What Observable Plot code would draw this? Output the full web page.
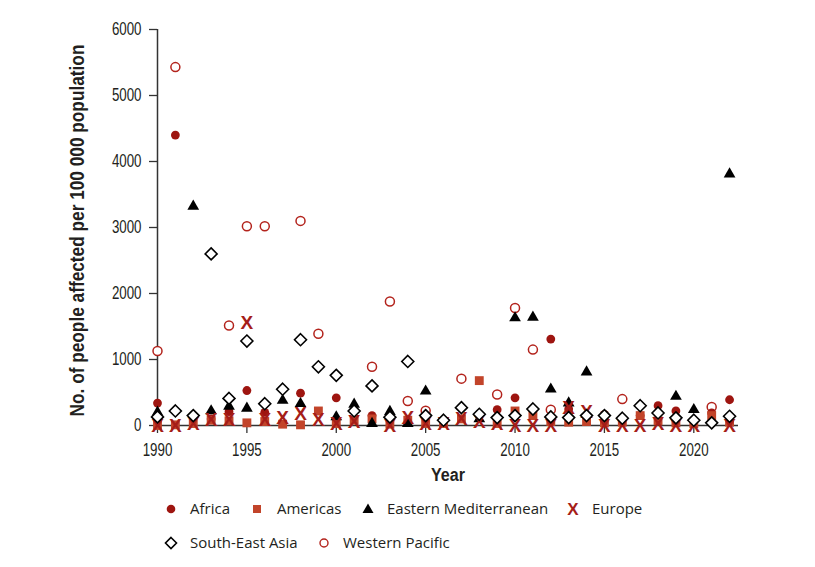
<!DOCTYPE html>
<html>
<head>
<meta charset="utf-8">
<script src="https://cdn.jsdelivr.net/npm/d3@7"></script>
<script src="https://cdn.jsdelivr.net/npm/@observablehq/plot@0.6"></script>
<style>
  html, body { margin: 0; padding: 0; background: #fff; }
  #wrap { position: relative; width: 815px; height: 567px; overflow: hidden; }
  .leg { position: absolute; font-family: "Open Sans", sans-serif; font-size: 15px; color: #231f20; line-height: 20px; white-space: nowrap; }
  .mk { position: absolute; }
  .mk svg { overflow: visible; }
</style>
</head>
<body>
<div id="wrap"></div>
<script>
const years = [1990,1991,1992,1993,1994,1995,1996,1997,1998,1999,2000,2001,2002,2003,2004,2005,2006,2007,2008,2009,2010,2011,2012,2013,2014,2015,2016,2017,2018,2019,2020,2021,2022];

const africa    = [340,4400,null,100,210,530,200,null,490,null,420,null,150,null,null,null,null,null,null,240,420,null,1310,250,null,170,null,150,300,220,null,190,390];
const americas  = [0,10,30,80,70,40,60,20,10,220,30,80,100,20,80,30,30,100,680,30,220,150,60,50,60,40,50,150,70,40,30,150,50];
const easternMed= [200,null,3320,220,290,260,null,380,330,null,130,320,30,210,30,520,null,null,100,null,1630,1640,550,340,810,null,null,null,null,440,240,null,3810];
const europe    = [0,0,30,90,80,1560,80,110,180,80,25,50,null,0,120,30,20,100,50,20,0,0,0,260,200,0,0,0,20,0,0,null,0];
const seAsia    = [130,220,150,2600,410,1280,330,550,1300,890,760,220,600,126,970,150,80,270,170,120,150,250,130,120,150,150,110,300,190,116,80,40,140];
const wPacific  = [1130,5430,null,null,1515,3020,3020,null,3100,1390,null,null,890,1880,370,225,null,710,null,470,1780,1150,240,null,null,null,400,null,null,null,null,280,null];

const xTicks = [1990,1995,2000,2005,2010,2015,2020];
const yTicks = [0,1000,2000,3000,4000,5000,6000];
const regionNames = ["Africa","Americas","Eastern Mediterranean","Europe","South-East Asia","Western Pacific"];
const xLabel = "Year";
const yLabel = "No. of people affected per 100 000 population";

function rows(values, region) {
  return years.map((year, i) => ({year, value: values[i], region})).filter(d => d.value != null);
}
const dAfrica = rows(africa, regionNames[0]);
const dAmericas = rows(americas, regionNames[1]);
const dEM = rows(easternMed, regionNames[2]);
const dEurope = rows(europe, regionNames[3]);
const dSEA = rows(seAsia, regionNames[4]);
const dWP = rows(wPacific, regionNames[5]);

const C_AFR = "#9e1510", C_AM = "#c2442a", C_EU = "#a51d18", C_WP = "#b3231c";
const sans = "'Liberation Sans', Arial, sans-serif";

const chart = Plot.plot({
  width: 815,
  height: 490,
  marginLeft: 157,
  marginRight: 77,
  marginTop: 29,
  marginBottom: 65,
  style: {fontFamily: sans, fontSize: "18px", color: "#231f20", background: "#fff"},
  x: {domain: [1990, 2022.5]},
  y: {domain: [0, 6000]},
  marks: [
    Plot.ruleY([0], {stroke: "#333", strokeWidth: 1.5}),
    Plot.ruleX([1990], {y1: 0, y2: 6000, stroke: "#333", strokeWidth: 1.5}),
    Plot.axisX({ticks: xTicks, tickSize: 8, tickPadding: 9, tickFormat: d => String(d), label: null, fontSize: 18.5, stroke: "#333", strokeWidth: 1.3}),
    Plot.axisY({ticks: yTicks, tickSize: 8, tickPadding: 8, tickFormat: d => String(d), label: null, fontSize: 18.5, stroke: "#333", strokeWidth: 1.3}),
    Plot.text([xLabel], {frameAnchor: "bottom", dy: 55, text: d => d, fontWeight: "bold", fontSize: 19, textAnchor: "middle"}),
    Plot.text([yLabel], {frameAnchor: "left", dx: -80, dy: 3, rotate: -90, text: d => d, textAnchor: "middle", fontWeight: "bold", fontSize: 19.5}),
    Plot.dot(dWP, {x: "year", y: "value", r: 4.5, stroke: C_WP, strokeWidth: 1.5, fill: "#fff"}),
    Plot.dot(dAfrica, {x: "year", y: "value", r: 4.4, fill: C_AFR, stroke: "none"}),
    Plot.dot(dAmericas, {x: "year", y: "value", symbol: "square", r: 5, fill: C_AM, stroke: "none"}),
    Plot.dot(dEM, {x: "year", y: "value", symbol: "triangle2", r: 5.6, fill: "#000", stroke: "none"}),
    Plot.text(dEurope, {x: "year", y: "value", text: d => "X", fill: C_EU, fontWeight: "bold", fontSize: 19, fontFamily: sans}),
    Plot.dot(dSEA, {x: "year", y: "value", symbol: "diamond2", r: 5.4, stroke: "#000", strokeWidth: 1.6, fill: "#fff"})
  ]
});

const wrap = document.getElementById("wrap");
chart.style.position = "absolute";
chart.style.left = "0px";
chart.style.top = "0px";
wrap.appendChild(chart);

// Condense the axis texts (reference uses a condensed face)
function squeeze(sel, s) {
  chart.querySelectorAll(sel).forEach(t => {
    const tr = t.getAttribute("transform") || "";
    t.setAttribute("transform", tr + ` scale(${s},1)`);
  });
}
squeeze('g[aria-label="x-axis tick label"] text', 0.72);
squeeze('g[aria-label="y-axis tick label"] text', 0.72);
function fitText(content, target) {
  chart.querySelectorAll("text").forEach(t => {
    if (t.textContent === content) {
      const len = t.getComputedTextLength();
      if (len > 0) {
        const tr = t.getAttribute("transform") || "";
        t.setAttribute("transform", tr + ` scale(${target / len},1)`);
      }
    }
  });
}
fitText(yLabel, 372);
fitText(xLabel, 34);

// Legend
const legendItems = [
  {name: regionNames[0], mx: 171, tx: 190, y: 509, svg: `<circle cx="8" cy="8" r="4.3" fill="${C_AFR}"/>`},
  {name: regionNames[1], mx: 257, tx: 277, y: 509, svg: `<rect x="4" y="4" width="8" height="8" fill="${C_AM}"/>`},
  {name: regionNames[2], mx: 368, tx: 387, y: 509, svg: `<path d="M8,2.5 L13.5,12 L2.5,12 Z" fill="#000"/>`},
  {name: regionNames[3], mx: 573, tx: 592, y: 509, svg: `<text x="8" y="14" text-anchor="middle" font-family="Liberation Sans, Arial, sans-serif" font-weight="bold" font-size="17" fill="${C_EU}">X</text>`},
  {name: regionNames[4], mx: 171, tx: 190, y: 543, svg: `<path d="M8,2.5 L13.5,8 L8,13.5 L2.5,8 Z" fill="#fff" stroke="#000" stroke-width="1.6"/>`},
  {name: regionNames[5], mx: 324, tx: 343, y: 543, svg: `<circle cx="8" cy="8" r="4" fill="#fff" stroke="${C_WP}" stroke-width="1.4"/>`}
];
for (const it of legendItems) {
  const m = document.createElement("div");
  m.className = "mk";
  m.style.left = (it.mx - 8) + "px";
  m.style.top = (it.y - 8) + "px";
  m.innerHTML = `<svg width="16" height="16" viewBox="0 0 16 16">${it.svg}</svg>`;
  wrap.appendChild(m);
  const t = document.createElement("div");
  t.className = "leg";
  t.style.left = it.tx + "px";
  t.style.top = (it.y - 11) + "px";
  t.textContent = it.name;
  wrap.appendChild(t);
}
</script>
</body>
</html>
